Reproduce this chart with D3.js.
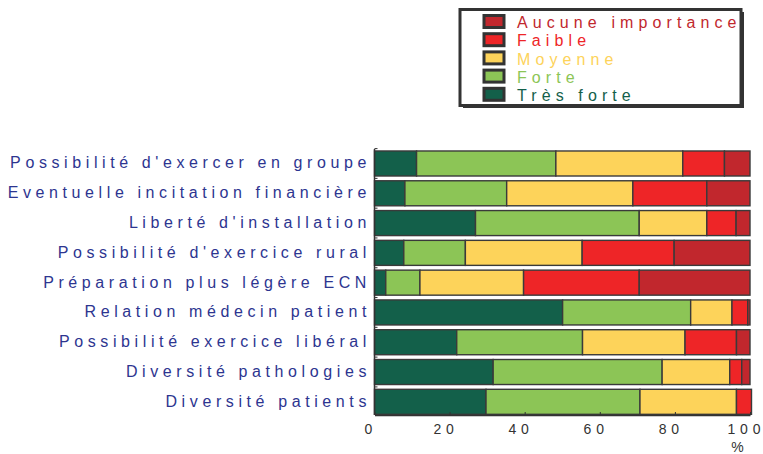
<!DOCTYPE html>
<html>
<head>
<meta charset="utf-8">
<script src="https://cdn.jsdelivr.net/npm/d3@7"></script>
<style>
  body { margin: 0; background: #fff; }
  svg { display: block; font-family: "Liberation Sans", Arial, sans-serif; }
</style>
</head>
<body>
<div id="chart"></div>
<script>
// categories, top to bottom
var categories = [
  "Possibilité d'exercer en groupe",
  "Eventuelle incitation financière",
  "Liberté d'installation",
  "Possibilité d'exercice rural",
  "Préparation plus légère ECN",
  "Relation médecin patient",
  "Possibilité exercice libéral",
  "Diversité pathologies",
  "Diversité patients"
];

// series values in %
var tresForte = [11.2, 8.1, 26.9, 7.8, 3.0, 50.1, 21.9, 31.6, 29.7];
var forte     = [37.1, 27.1, 43.6, 16.4, 9.1, 34.1, 33.5, 45.0, 41.0];
var moyenne   = [33.8, 33.6, 18.0, 31.1, 27.6, 11.0, 27.3, 18.0, 25.7];
var faible    = [11.1, 19.7, 7.8, 24.5, 30.8, 4.2, 13.7, 3.2, 4.0];
var aucune    = [6.8, 11.5, 3.7, 20.2, 29.5, 0.6, 3.6, 2.2, 0];

var seriesNames = ["Très forte", "Forte", "Moyenne", "Faible", "Aucune importance"];
var seriesColors = ["#13604a", "#8cc556", "#fdd35a", "#ee2527", "#c1272d"];
var xTicks = [0, 20, 40, 60, 80, 100];

var totwidth = 763, totheight = 454;

var svg = d3.select("#chart").append("svg")
    .attr("width", totwidth)
    .attr("height", totheight);

// build table for d3.stack
var table = categories.map(function(c, i) {
  return { cat: c, "Très forte": tresForte[i], "Forte": forte[i], "Moyenne": moyenne[i],
           "Faible": faible[i], "Aucune importance": aucune[i] };
});

var stacked = d3.stack().keys(seriesNames)(table);

var x = d3.scaleLinear().domain([0, 100]).range([374.5, 750]);
var y = d3.scaleBand().domain(categories).range([148, 417.3])
    .paddingInner(0.16).paddingOuter(0.1);
var color = d3.scaleOrdinal().domain(seriesNames).range(seriesColors);

// bars
svg.append("g").selectAll("g")
  .data(stacked)
  .enter().append("g")
    .attr("fill", function(d) { return color(d.key); })
  .selectAll("rect")
  .data(function(d) { return d; })
  .enter().append("rect")
    .filter(function(d) { return d[1] - d[0] > 0; })
    .attr("x", function(d) { return x(d[0]); })
    .attr("y", function(d) { return y(d.data.cat); })
    .attr("width", function(d) { return x(d[1]) - x(d[0]); })
    .attr("height", y.bandwidth())
    .attr("stroke", "#3a3a3a")
    .attr("stroke-width", 1.4);

// x axis
var xAxis = svg.append("g")
  .attr("transform", "translate(0,415)")
  .call(d3.axisBottom(x).tickValues(xTicks).tickSizeInner(-3).tickSizeOuter(0).tickPadding(9));
xAxis.select(".domain").attr("stroke", "#333").attr("stroke-width", 1.5);
xAxis.selectAll(".tick line").attr("stroke", "#333").attr("stroke-width", 1);
// spread the digits without trailing space after the last one
xAxis.selectAll(".tick text")
  .attr("fill", "#333")
  .attr("font-size", 14)
  .attr("font-family", "Liberation Sans, Arial, sans-serif")
  .attr("x", -6.5)
  .each(function() {
    var t = d3.select(this), s = t.text().split("");
    t.text(null);
    s.forEach(function(ch, i) {
      t.append("tspan").attr("dx", i ? 4.8 : null).text(ch);
    });
  });

svg.append("text")
  .attr("x", 737.5).attr("y", 452)
  .attr("text-anchor", "middle")
  .attr("fill", "#333")
  .attr("font-size", 14)
  .text("%");

// y axis: line, boundary ticks, labels
var step = y.step();
svg.append("line")
  .attr("x1", x(0)).attr("x2", x(0))
  .attr("y1", 149).attr("y2", 415)
  .attr("stroke", "#333").attr("stroke-width", 1.5);

svg.append("g").selectAll("line")
  .data(categories)
  .enter().append("line")
    .attr("x1", x(0)).attr("x2", x(0) + 3)
    .attr("y1", function(d) { return y(d) - step * 0.08; })
    .attr("y2", function(d) { return y(d) - step * 0.08; })
    .attr("stroke", "#333").attr("stroke-width", 1);

svg.append("g").selectAll("text")
  .data(categories)
  .enter().append("text")
    .attr("x", 371)
    .attr("y", function(d) { return y(d) + y.bandwidth() / 2 + 5; })
    .attr("text-anchor", "end")
    .attr("fill", "#2d3590")
    .attr("font-size", 16)
    .attr("letter-spacing", 4.6)
    .text(function(d) { return d; });

// legend
var legendOrder = seriesNames.slice().reverse();
var lg = svg.append("g");
lg.append("rect")
  .attr("x", 463).attr("y", 12).attr("width", 281).attr("height", 96)
  .attr("fill", "#333");
lg.append("rect")
  .attr("x", 460).attr("y", 9.5).attr("width", 281).attr("height", 96)
  .attr("fill", "#fff").attr("stroke", "#333").attr("stroke-width", 3);

var items = lg.selectAll(".item")
  .data(legendOrder)
  .enter().append("g")
    .attr("class", "item")
    .attr("transform", function(d, i) { return "translate(0," + (i * 18.2) + ")"; });

items.append("rect")
  .attr("x", 484).attr("y", 15.5).attr("width", 20).attr("height", 12)
  .attr("fill", function(d) { return color(d); })
  .attr("stroke", "#333").attr("stroke-width", 3);

items.append("text")
  .attr("x", 517).attr("y", 28.3)
  .attr("fill", function(d) { return color(d); })
  .attr("font-size", 16)
  .attr("letter-spacing", 5.1)
  .text(function(d) { return d; });
</script>
</body>
</html>
